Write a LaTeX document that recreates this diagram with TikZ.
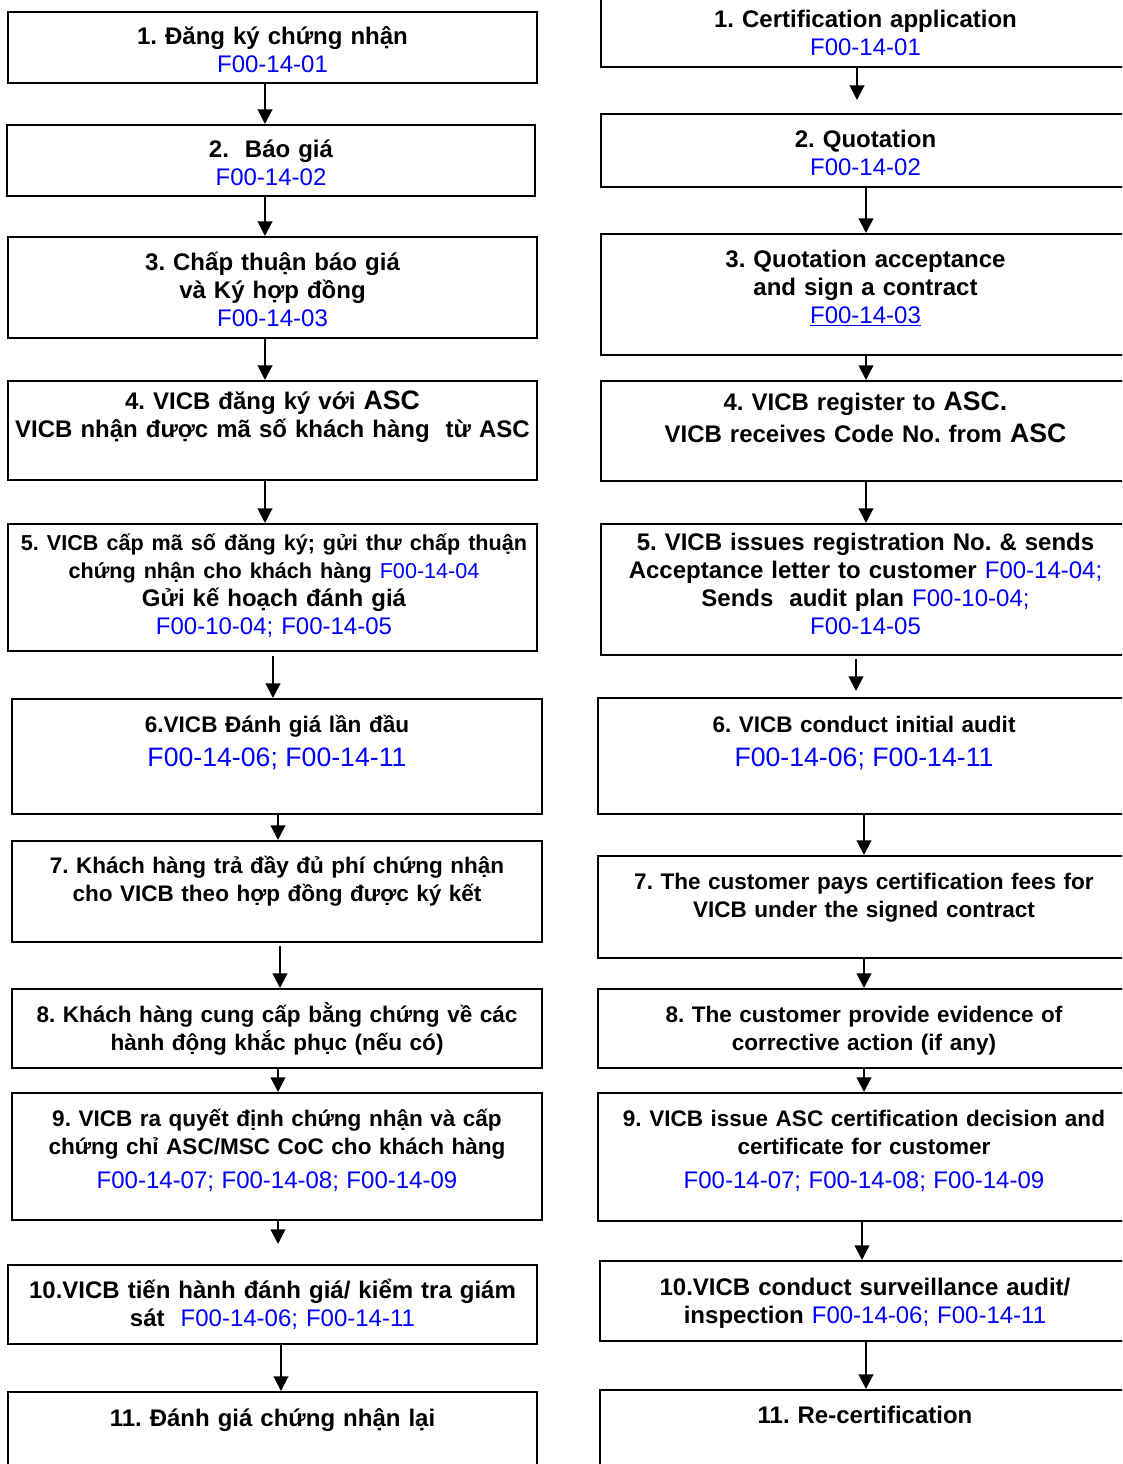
\documentclass[tikz,border=0pt]{standalone}
\usepackage{fontspec}
\setmainfont{Liberation Sans}
\frenchspacing
\usetikzlibrary{arrows.meta}
\newcommand{\fref}[1]{{\mdseries\color{blue}#1}}
\newcommand{\frefbig}[1]{{\fontsize{20}{23}\selectfont\mdseries\color{blue}#1}}
\newcommand{\asc}[1]{{\fontsize{20}{21}\selectfont #1}}
\newcommand{\flowbox}[5]{\node[box, minimum width={(#4-#2)*0.75pt}, minimum height={(#5-#3)*0.75pt}] (#1) at ({(#2+#4)/2},{(#3+#5)/2}) {};}
\tikzset{
box/.style={draw, rectangle, line width=1.5pt, inner sep=0pt},
txt/.style={anchor=base, align=center, text width=450pt, inner sep=0pt, font=\fontsize{18}{21}\selectfont\bfseries},
txtsmall/.style={txt, font=\fontsize{16.9}{21}\selectfont\bfseries},
arr/.style={line width=1.5pt, -{Triangle[length=11pt,width=11pt]}}
}

\begin{document}
\begin{tikzpicture}[x=0.75pt,y=-0.75pt]
\clip (0,0) rectangle (1122,1464);

\flowbox{l1}{8}{12}{537}{83}
\flowbox{l2}{7}{125}{535}{196}
\flowbox{l3}{8}{237}{537}{338}
\flowbox{l4}{8}{381}{537}{480}
\flowbox{l5}{8}{524}{537}{651}
\flowbox{l6}{12}{699}{542}{814}
\flowbox{l7}{12}{841}{542}{942}
\flowbox{l8}{12}{989}{542}{1068}
\flowbox{l9}{12}{1093}{542}{1220}
\flowbox{l10}{8}{1265}{537}{1344}
\flowbox{l11}{8}{1392}{537}{1480}

\node[txt] (l1t) at (272.5,44.5) {1. Đăng ký chứng nhận\\ \fref{F00-14-01}};
\node[txt] (l2t) at (271,157.5) {2.\ \ Báo giá\\ \fref{F00-14-02}};
\node[txt] (l3t) at (272.5,270.5) {3. Chấp thuận báo giá\\ và Ký hợp đồng\\ \fref{F00-14-03}};
\node[txt] (l4t) at (272.5,409.5) {4. VICB đăng ký với \asc{ASC}\\ VICB nhận được mã số khách hàng\ \ từ ASC};
\node[txt] (l5t) at (274,550) {{\fontsize{16.2}{21}\selectfont 5. VICB cấp mã số đăng ký; gửi thư chấp thuận\\ chứng nhận cho khách hàng \fref{F00-14-04}}\\ Gửi kế hoạch đánh giá\\ \fref{F00-10-04; F00-14-05}};
\node[txtsmall] (l6t) at (277,732) {6.VICB Đánh giá lần đầu\\[4.5pt] \frefbig{F00-14-06; F00-14-11}};
\node[txtsmall] (l7t) at (277,873) {7. Khách hàng trả đầy đủ phí chứng nhận\\ cho VICB theo hợp đồng được ký kết};
\node[txtsmall] (l8t) at (277,1022) {8. Khách hàng cung cấp bằng chứng về các\\ hành động khắc phục (nếu có)};
\node[txtsmall] (l9t) at (277,1126) {9. VICB ra quyết định chứng nhận và cấp\\ chứng chỉ ASC/MSC CoC cho khách hàng\\[4.5pt] {\fontsize{18}{21}\selectfont\fref{F00-14-07; F00-14-08; F00-14-09}}};
\node[txt] (l10t) at (272.5,1298.5) {10.VICB tiến hành đánh giá/ kiểm tra giám\\ sát\ \ \fref{F00-14-06; F00-14-11}};
\node[txt] (l11t) at (272.5,1426.5) {11. Đánh giá chứng nhận lại};

\draw[arr] (l1.south -| 265,0) -- (l2.north -| 265,0);
\draw[arr] (l2.south -| 265,0) -- (l3.north -| 265,0);
\draw[arr] (l3.south -| 265,0) -- (l4.north -| 265,0);
\draw[arr] (l4.south -| 265,0) -- (l5.north -| 265,0);
\draw[arr, shorten <=3pt] (l5.south -| 273,0) -- (l6.north -| 273,0);
\draw[arr] (l6.south -| 278,0) -- (l7.north -| 278,0);
\draw[arr, shorten <=2pt] (l7.south -| 280,0) -- (l8.north -| 280,0);
\draw[arr] (l8.south -| 278,0) -- (l9.north -| 278,0);
\draw[arr, shorten >=15pt] (l9.south -| 278,0) -- (l10.north -| 278,0);
\draw[arr] (l10.south -| 281,0) -- (l11.north -| 281,0);

\flowbox{r1}{601}{-10}{1130}{67}
\flowbox{r2}{601}{114}{1130}{187}
\flowbox{r3}{601}{234}{1130}{355}
\flowbox{r4}{601}{381}{1130}{481}
\flowbox{r5}{601}{524}{1130}{655}
\flowbox{r6}{598}{698}{1130}{814}
\flowbox{r7}{598}{856}{1130}{958}
\flowbox{r8}{598}{989}{1130}{1068}
\flowbox{r9}{598}{1093}{1130}{1221}
\flowbox{r10}{600}{1261}{1130}{1341}
\flowbox{r11}{600}{1390}{1130}{1480}

\node[txt] (r1t) at (865.5,27.5) {1. Certification application\\ \fref{F00-14-01}};
\node[txt] (r2t) at (865.5,147.5) {2. Quotation\\ \fref{F00-14-02}};
\node[txt] (r3t) at (865.5,267.5) {3. Quotation acceptance\\ and sign a contract\\ \fref{\underline{F00-14-03}}};
\node[txt] (r4t) at (865.5,410.5) {4. VICB register to \asc{ASC.}\\[3pt] VICB receives Code No. from \asc{ASC}};
\node[txt] (r5t) at (865.5,550.5) {5. VICB issues registration No. \& sends\\ Acceptance letter to customer \fref{F00-14-04;}\\ Sends\ \ audit plan \fref{F00-10-04;}\\ \fref{F00-14-05}};
\node[txtsmall] (r6t) at (864,732) {6. VICB conduct initial audit\\[4.5pt] \frefbig{F00-14-06; F00-14-11}};
\node[txtsmall] (r7t) at (864,889) {7. The customer pays certification fees for\\ VICB under the signed contract};
\node[txtsmall] (r8t) at (864,1022) {8. The customer provide evidence of\\ corrective action (if any)};
\node[txtsmall] (r9t) at (864,1126) {9. VICB issue ASC certification decision and\\ certificate for customer\\[4.5pt] {\fontsize{18}{21}\selectfont\fref{F00-14-07; F00-14-08; F00-14-09}}};
\node[txt] (r10t) at (865,1295.5) {10.VICB conduct surveillance audit/\\ inspection \fref{F00-14-06; F00-14-11}};
\node[txt] (r11t) at (865,1423.5) {11. Re-certification};

\draw[arr, shorten >=9.75pt] (r1.south -| 857,0) -- (r2.north -| 857,0);
\draw[arr] (r2.south -| 866,0) -- (r3.north -| 866,0);
\draw[arr] (r3.south -| 866,0) -- (r4.north -| 866,0);
\draw[arr] (r4.south -| 866,0) -- (r5.north -| 866,0);
\draw[arr, shorten <=2pt, shorten >=4.5pt] (r5.south -| 856,0) -- (r6.north -| 856,0);
\draw[arr] (r6.south -| 864,0) -- (r7.north -| 864,0);
\draw[arr] (r7.south -| 864,0) -- (r8.north -| 864,0);
\draw[arr] (r8.south -| 864,0) -- (r9.north -| 864,0);
\draw[arr] (r9.south -| 862,0) -- (r10.north -| 862,0);
\draw[arr] (r10.south -| 866,0) -- (r11.north -| 866,0);
\end{tikzpicture}
\end{document}
